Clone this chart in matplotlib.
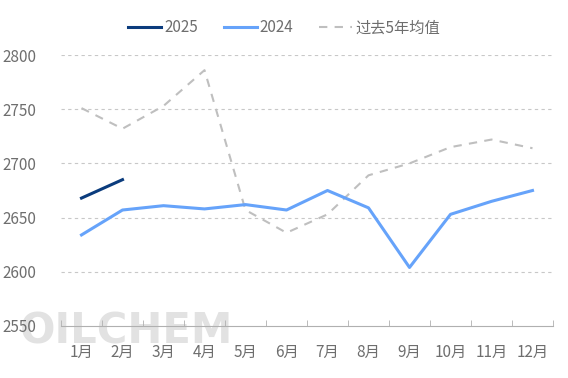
import matplotlib.pyplot as plt
import numpy as np

plt.rcParams['font.family'] = ['Noto Sans CJK SC', 'DejaVu Sans']

months = ['1月', '2月', '3月', '4月', '5月', '6月', '7月', '8月', '9月', '10月', '11月', '12月']
y2025 = [2668, 2685]
y2024 = [2634, 2657, 2661, 2658, 2662, 2657, 2675, 2659, 2604, 2653, 2665, 2675]
avg5 = [2751, 2732, 2753, 2786, 2657, 2636, 2653, 2689, 2700, 2715, 2722, 2714]
yticks = [2550, 2600, 2650, 2700, 2750, 2800]

TEXT = '#6e6e6e'

fig = plt.figure(figsize=(5.68, 3.78), dpi=100)
ax = fig.add_axes([61 / 568, 52 / 378, 492 / 568, 271 / 378])
ax.patch.set_alpha(0)

x = np.arange(len(months))
ax.plot(x[:len(y2025)], y2025, color='#0B3C7D', lw=2.2, label='2025', zorder=4)
ax.plot(x, y2024, color='#66A3FA', lw=2.2, label='2024', zorder=3)
ax.plot(x, avg5, color='#BFBFBF', lw=1.5, ls=(0, (4, 3.5)), label='过去5年均值', zorder=2)

ax.set_xlim(-0.5, 11.5)
ax.set_ylim(2550, 2800)
ax.set_yticks(yticks)
ax.set_xticks(x)
ax.set_xticklabels(months)
ax.set_xticks(np.arange(-0.5, 12, 1), minor=True)

for v in yticks[1:]:
    ax.axhline(v, color='#c8c8c8', lw=0.8, ls=(0, (3, 3)), zorder=1)

for s in ['top', 'right', 'left']:
    ax.spines[s].set_visible(False)
ax.spines['bottom'].set_color('#b0b0b0')

ax.tick_params(axis='y', length=0, pad=42, labelsize=11, labelcolor=TEXT)
for lab in ax.get_yticklabels():
    lab.set_horizontalalignment('left')
ax.tick_params(axis='x', which='major', length=0, pad=13, labelsize=11, labelcolor=TEXT)
ax.tick_params(axis='x', which='minor', direction='in', length=4.5, color='#b0b0b0')

# watermark, behind the axes
fig.text(20 / 568, 1 - 331 / 378, 'OILCHEM', fontsize=30, fontweight='bold',
         color='#e2e2e2', va='center', ha='left', family='DejaVu Sans', zorder=-1)

fig.legend(loc='center', bbox_to_anchor=(0.5, 1 - 28 / 378), ncol=3, frameon=False,
           fontsize=11, labelcolor=TEXT, handlelength=2.15, handletextpad=0.2, columnspacing=1.7)

fig.savefig('out.png', dpi=100)
